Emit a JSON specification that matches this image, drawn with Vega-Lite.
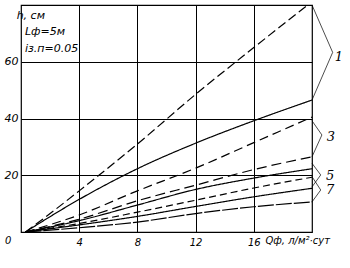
{
  "$schema": "https://vega.github.io/schema/vega-lite/v6.json",
  "width": 291,
  "height": 227,
  "autosize": {"type": "none"},
  "padding": {"left": 21, "top": 5, "right": 38, "bottom": 36},
  "background": "white",
  "config": {
    "view": {"stroke": "black", "strokeWidth": 1.2},
    "axis": {
      "grid": true, "gridColor": "black", "gridOpacity": 1, "gridWidth": 1,
      "domain": false, "ticks": false,
      "labelFont": "DejaVu Sans", "labelFontStyle": "italic", "labelColor": "black",
      "title": null
    }
  },
  "datasets": {
    "curves": [
      {"s": "1", "x": 0.3, "y": 0}, {"s": "1", "x": 2, "y": 6.5}, {"s": "1", "x": 4, "y": 14.5}, {"s": "1", "x": 8, "y": 31}, {"s": "1", "x": 12, "y": 48.5}, {"s": "1", "x": 16, "y": 65}, {"s": "1", "x": 19.7, "y": 80},
      {"s": "2", "x": 0.3, "y": 0}, {"s": "2", "x": 4, "y": 11.5}, {"s": "2", "x": 8, "y": 22.3}, {"s": "2", "x": 12, "y": 31.3}, {"s": "2", "x": 16, "y": 39.2}, {"s": "2", "x": 20, "y": 46.5},
      {"s": "3", "x": 0.3, "y": 0}, {"s": "3", "x": 4, "y": 6}, {"s": "3", "x": 8, "y": 14.5}, {"s": "3", "x": 12, "y": 22.5}, {"s": "3", "x": 16, "y": 31.5}, {"s": "3", "x": 20, "y": 40.5},
      {"s": "4", "x": 0.3, "y": 0}, {"s": "4", "x": 4, "y": 4.5}, {"s": "4", "x": 8, "y": 11}, {"s": "4", "x": 12, "y": 16.5}, {"s": "4", "x": 16, "y": 22}, {"s": "4", "x": 20, "y": 26.5},
      {"s": "5", "x": 0.3, "y": 0}, {"s": "5", "x": 4, "y": 4}, {"s": "5", "x": 8, "y": 9.5}, {"s": "5", "x": 12, "y": 15}, {"s": "5", "x": 16, "y": 19}, {"s": "5", "x": 20, "y": 22.3},
      {"s": "6", "x": 0.3, "y": 0}, {"s": "6", "x": 4, "y": 3}, {"s": "6", "x": 8, "y": 7}, {"s": "6", "x": 12, "y": 11.2}, {"s": "6", "x": 16, "y": 15.5}, {"s": "6", "x": 20, "y": 19.3},
      {"s": "7", "x": 0.3, "y": 0}, {"s": "7", "x": 4, "y": 2.5}, {"s": "7", "x": 8, "y": 5.5}, {"s": "7", "x": 12, "y": 9}, {"s": "7", "x": 16, "y": 12.4}, {"s": "7", "x": 20, "y": 15.4},
      {"s": "8", "x": 0.3, "y": 0}, {"s": "8", "x": 4, "y": 1.5}, {"s": "8", "x": 8, "y": 3.5}, {"s": "8", "x": 12, "y": 6.5}, {"s": "8", "x": 16, "y": 8.9}, {"s": "8", "x": 20, "y": 10.6}
    ],
    "brackets": [
      {"g": "1", "o": 1, "x": 20, "y": 80}, {"g": "1", "o": 2, "x": 21.42, "y": 63.3}, {"g": "1", "o": 3, "x": 20, "y": 46.5},
      {"g": "3", "o": 1, "x": 20, "y": 39.2}, {"g": "3", "o": 2, "x": 20.68, "y": 34.2}, {"g": "3", "o": 3, "x": 20, "y": 26.5},
      {"g": "5", "o": 1, "x": 20, "y": 24.2}, {"g": "5", "o": 2, "x": 20.6, "y": 20.1}, {"g": "5", "o": 3, "x": 20, "y": 15.9},
      {"g": "7", "o": 1, "x": 20, "y": 19.5}, {"g": "7", "o": 2, "x": 20.6, "y": 14.8}, {"g": "7", "o": 3, "x": 20, "y": 10.6}
    ],
    "notes": [
      {"x": -0.3, "y": 75, "t": "h, см"},
      {"x": 0.27, "y": 69.6, "t": "Lф=5м"},
      {"x": 0.27, "y": 63.3, "t": "iз.п=0.05"}
    ],
    "axisnotes": [
      {"x": -1.1, "y": -4.2, "t": "0"},
      {"x": 16.8, "y": -4.2, "t": "Qф, л/м²·сут"}
    ],
    "marks": [
      {"x": 21.85, "y": 61.5, "t": "1"},
      {"x": 21.3, "y": 33.6, "t": "3"},
      {"x": 21.24, "y": 19.7, "t": "5"},
      {"x": 21.24, "y": 14.7, "t": "7"}
    ]
  },
  "layer": [
    {
      "data": {"name": "curves"},
      "mark": {"type": "line", "interpolate": "monotone", "color": "black", "strokeWidth": 1.2, "clip": false},
      "encoding": {
        "x": {"field": "x", "type": "quantitative", "scale": {"domain": [0, 20], "nice": false, "zero": false},
              "axis": {"values": [4, 8, 12, 16], "labelFontSize": 10, "labelPadding": 5}},
        "y": {"field": "y", "type": "quantitative", "scale": {"domain": [0, 80], "nice": false, "zero": false},
              "axis": {"values": [20, 40, 60], "labelFontSize": 11, "labelPadding": 3}},
        "detail": {"field": "s", "type": "nominal"},
        "strokeDash": {"field": "s", "type": "nominal", "legend": null,
          "scale": {"domain": ["1", "2", "3", "4", "5", "6", "7", "8"],
                    "range": [[9, 4], [1, 0], [9, 5], [10, 5], [1, 0], [7, 4], [1, 0], [16, 2]]}}
      }
    },
    {
      "data": {"name": "brackets"},
      "mark": {"type": "line", "color": "black", "strokeWidth": 0.7, "clip": false},
      "encoding": {
        "x": {"field": "x", "type": "quantitative"},
        "y": {"field": "y", "type": "quantitative"},
        "detail": {"field": "g", "type": "nominal"},
        "order": {"field": "o", "type": "quantitative"}
      }
    },
    {
      "data": {"name": "notes"},
      "mark": {"type": "text", "align": "left", "baseline": "alphabetic", "font": "DejaVu Sans", "fontStyle": "italic", "fontSize": 11, "color": "black"},
      "encoding": {
        "x": {"field": "x", "type": "quantitative"},
        "y": {"field": "y", "type": "quantitative"},
        "text": {"field": "t", "type": "nominal"}
      }
    },
    {
      "data": {"name": "axisnotes"},
      "mark": {"type": "text", "align": "left", "baseline": "alphabetic", "font": "DejaVu Sans", "fontStyle": "italic", "fontSize": 10, "color": "black"},
      "encoding": {
        "x": {"field": "x", "type": "quantitative"},
        "y": {"field": "y", "type": "quantitative"},
        "text": {"field": "t", "type": "nominal"}
      }
    },
    {
      "data": {"name": "marks"},
      "mark": {"type": "text", "align": "center", "baseline": "middle", "font": "DejaVu Serif", "fontStyle": "italic", "fontSize": 13, "color": "black"},
      "encoding": {
        "x": {"field": "x", "type": "quantitative"},
        "y": {"field": "y", "type": "quantitative"},
        "text": {"field": "t", "type": "nominal"}
      }
    }
  ]
}
